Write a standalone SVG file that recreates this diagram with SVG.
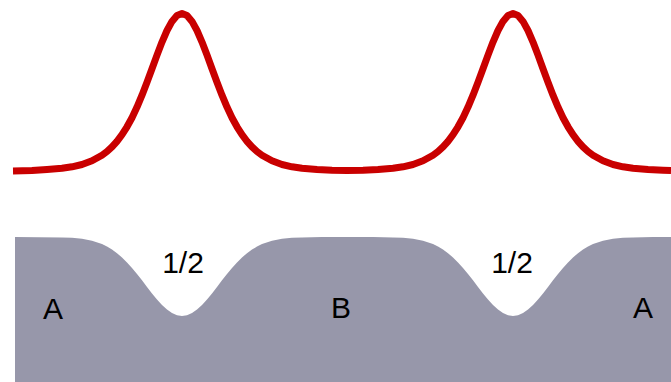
<svg xmlns="http://www.w3.org/2000/svg" width="671" height="382" viewBox="0 0 671 382">
<style>
.lbl{font-family:"Liberation Sans",Arial,sans-serif;font-size:30px;fill:#000;text-anchor:middle}
.curve{fill:none;stroke:#c90000;stroke-width:7;stroke-linejoin:round;stroke-linecap:butt}
.band{fill:#9797aa;stroke:none}
</style>
<rect width="671" height="382" fill="#ffffff"/>
<g id="peaks">
<path class="curve" d="M13,171 L32,170.6 47,169.6 62,168.3 72,166.8 82,164.5 92,160.8 102,155.2 107,151.5 112,146.9 117,141.3 122,134.7 127,126.8 132,117.7 137,107.1 142,95.2 147,82.3 152,68.8 157,55.1 162,42.1 167,30.5 172,21.4 177,15.5 182,13.5 187,15.5 192,21.4 197,30.5 202,42.1 207,55.1 212,68.8 217,82.3 222,95.2 227,107.1 232,117.7 237,126.8 242,134.7 247,141.3 252,146.9 257,151.5 262,155.2 272,160.8 282,164.5 292,166.8 302,168.3 317,169.6 332,170.3 347,170.4 363,170.3 378,169.6 393,168.3 403,166.8 413,164.5 423,160.8 433,155.2 438,151.5 443,146.9 448,141.3 453,134.7 458,126.8 463,117.7 468,107.1 473,95.2 478,82.3 483,68.8 488,55.1 493,42.1 498,30.5 503,21.4 508,15.5 513,13.5 518,15.5 523,21.4 528,30.5 533,42.1 538,55.1 543,68.8 548,82.3 553,95.2 558,107.1 563,117.7 568,126.8 573,134.7 578,141.3 583,146.9 588,151.5 593,155.2 603,160.8 613,164.5 623,166.8 633,168.3 648,169.6 663,170.3 671,170.5"/>
</g>
<g id="band">
<path class="band" d="M15,382 L15,237 L62,237.4 72,237.8 82,238.8 92,240.8 102,244.1 107,246.6 112,249.6 117,253.2 122,257.5 127,262.4 132,267.9 137,273.9 142,280.3 147,286.9 152,293.4 157,299.5 162,305 167,309.6 172,313.1 177,315.3 182,316 187,315.3 192,313.1 197,309.6 202,305 207,299.5 212,293.4 217,286.9 222,280.3 227,273.9 232,267.9 237,262.4 242,257.5 247,253.2 252,249.6 257,246.6 262,244.1 272,240.8 282,238.8 292,237.8 302,237.4 322,237.1 373,237.1 393,237.4 403,237.8 413,238.8 423,240.8 433,244.1 438,246.6 443,249.6 448,253.2 453,257.5 458,262.4 463,267.9 468,273.9 473,280.3 478,286.9 483,293.4 488,299.5 493,305 498,309.6 503,313.1 508,315.3 513,316 518,315.3 523,313.1 528,309.6 533,305 538,299.5 543,293.4 548,286.9 553,280.3 558,273.9 563,267.9 568,262.4 573,257.5 578,253.2 583,249.6 588,246.6 593,244.1 603,240.8 613,238.8 623,237.8 633,237.4 653,237.1 671,237 L671,382 Z"/>
</g>
<g id="labels">
<text class="lbl" x="183" y="273">1/2</text>
<text class="lbl" x="512" y="273">1/2</text>
<text class="lbl" x="53" y="319">A</text>
<text class="lbl" x="341" y="318">B</text>
<text class="lbl" x="643" y="318">A</text>
</g>
</svg>
